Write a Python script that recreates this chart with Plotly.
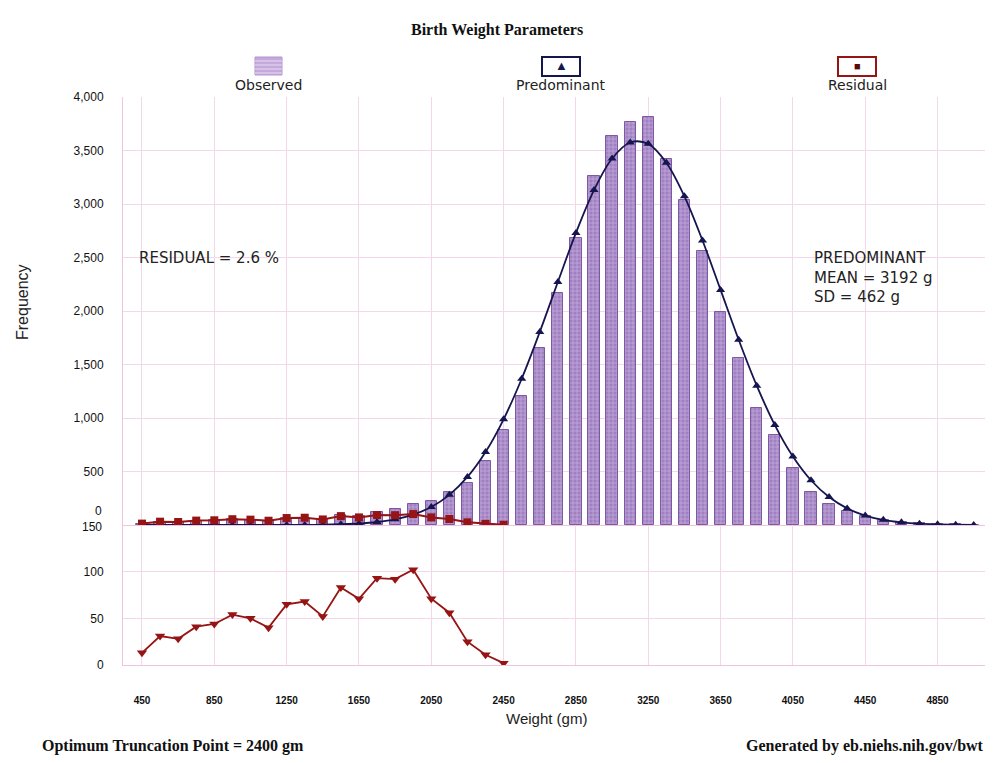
import plotly.graph_objects as go
from plotly.subplots import make_subplots

# ---------------- data ----------------
weights = [450, 550, 650, 750, 850, 950, 1050, 1150, 1250, 1350,
           1450, 1550, 1650, 1750, 1850, 1950, 2050, 2150, 2250, 2350,
           2450, 2550, 2650, 2750, 2850, 2950, 3050, 3150, 3250, 3350,
           3450, 3550, 3650, 3750, 3850, 3950, 4050, 4150, 4250, 4350,
           4450, 4550, 4650, 4750, 4850, 4950, 5050]

observed = [13, 31, 28, 41, 44, 54, 50, 40, 66, 70,
            56, 90, 85, 120, 145, 195, 225, 310, 390, 600,
            890, 1210, 1650, 2170, 2680, 3260, 3640, 3770, 3810, 3420,
            3040, 2560, 1990, 1560, 1090, 840, 530, 310, 200, 130,
            85, 45, 25, 15, 8, 5, 3]

predominant = [0, 0, 0, 0, 0, 0, 0, 0, 1, 1,
               3, 7, 14, 28, 53, 97, 169, 282, 449, 682,
               988, 1367, 1804, 2271, 2730, 3130, 3425, 3575, 3562, 3386,
               3072, 2659, 2197, 1731, 1302, 934, 640, 418, 261, 155,
               88, 48, 25, 12, 6, 3, 1]

residual_weights = weights[:21]
residual = [13, 31, 28, 41, 44, 54, 50, 40, 65, 68,
            52, 83, 71, 93, 92, 102, 71, 56, 25, 11, 2]

x_ticks = [450, 850, 1250, 1650, 2050, 2450, 2850, 3250, 3650, 4050, 4450, 4850]
y_ticks_top = [500, 1000, 1500, 2000, 2500, 3000, 3500, 4000]
y_ticks_bottom = [0, 50, 100]

# ---------------- layout geometry ----------------
OFF = 8  # page body margin
W, H = 985, 755
ML, MR, MT, MB = 115, 3, 89, 98
PW, PH = W - ML - MR, H - MT - MB


def px(xs):
    return (xs - OFF - ML) / PW


def py(ys):
    return (H - MB - (ys - OFF)) / PH


NAVY = "#15154f"
RED = "#961414"
GRID = "#f4d8ea"
SANS = "Liberation Sans, Arial, sans-serif"
WIDE = "DejaVu Sans, Liberation Sans, Arial, sans-serif"
NARROW = "Liberation Sans Narrow, Arial Narrow, Liberation Sans, Arial, sans-serif"
SERIF = "Liberation Serif, Times New Roman, serif"

fig = make_subplots(rows=2, cols=1, shared_xaxes=True, vertical_spacing=0,
                    row_heights=[428 / 568, 140 / 568])

fig.add_trace(go.Bar(
    x=weights, y=observed, width=62, name="Observed",
    marker=dict(color="#a080c2", line=dict(color="#7e58a2", width=1),
                pattern=dict(shape="+", fgcolor="#e2d6f0", size=4, solidity=0.35)),
), row=1, col=1)

fig.add_trace(go.Scatter(
    x=weights, y=predominant, mode="lines+markers", name="Predominant",
    line=dict(color=NAVY, width=1.8, shape="spline"),
    marker=dict(symbol="triangle-up", size=8, color=NAVY),
), row=1, col=1)

fig.add_trace(go.Scatter(
    x=residual_weights, y=residual, mode="lines+markers", name="Residual",
    line=dict(color=RED, width=2),
    marker=dict(symbol="square", size=8, color=RED),
), row=1, col=1)

fig.add_trace(go.Scatter(
    x=residual_weights, y=residual, mode="lines+markers", name="Residual",
    line=dict(color=RED, width=1.8),
    marker=dict(symbol="triangle-down", size=9, color=RED),
), row=2, col=1)

axis_common = dict(showgrid=True, gridcolor=GRID, gridwidth=1, zeroline=False,
                   showline=True, linecolor="#f0c4dc", linewidth=1, ticks="")

fig.update_xaxes(range=[345, 5140], tickvals=x_ticks, **axis_common)
fig.update_xaxes(showticklabels=False, row=1, col=1)
fig.update_xaxes(showticklabels=True, ticklabelstandoff=26,
                 tickfont=dict(family=NARROW, size=10, color="#111", weight="bold"),
                 row=2, col=1)

fig.update_yaxes(range=[0, 4000], tickvals=y_ticks_top, tickformat=",d",
                 ticklabelstandoff=16,
                 tickfont=dict(family=SANS, size=12, color="#111"),
                 row=1, col=1, **axis_common)
fig.update_yaxes(range=[0, 150], tickvals=y_ticks_bottom + [150], ticktext=["0", "50", "100", ""],
                 ticklabelstandoff=16,
                 tickfont=dict(family=SANS, size=12, color="#111"),
                 row=2, col=1, **axis_common)


def note(text, xs, ys, size, family=SANS, xanchor="center", color="#222", weight="normal", **kw):
    return dict(text=text, xref="paper", yref="paper", x=px(xs), y=py(ys),
                xanchor=xanchor, yanchor="middle", showarrow=False,
                font=dict(family=family, size=size, color=color, weight=weight), **kw)


annotations = [
    # boundary labels
    dict(text="0", xref="paper", yref="y", x=px(104), y=0, yshift=14,
         xanchor="right", yanchor="middle", showarrow=False,
         font=dict(family=SANS, size=12, color="#111")),
    dict(text="150", xref="paper", yref="y2", x=px(104), y=150, yshift=-2,
         xanchor="right", yanchor="middle", showarrow=False,
         font=dict(family=SANS, size=12, color="#111")),
    # titles
    note("Birth Weight Parameters", 497, 30, 16, family=SERIF, color="#111", weight="bold"),
    note("Frequency", 22, 302, 16, textangle=-90),
    note("Weight (gm)", 546, 718, 15),
    note("Optimum Truncation Point = 2400 gm", 40, 746, 16, family=SERIF,
         xanchor="left", color="#111", weight="bold"),
    note("Generated by eb.niehs.nih.gov/bwt", 986, 746, 16, family=SERIF,
         xanchor="right", color="#111", weight="bold"),
    # in-plot texts
    note("RESIDUAL = 2.6 %", 137, 258, 15, family=WIDE, xanchor="left"),
    note("PREDOMINANT<br>MEAN = 3192 g<br>SD = 462 g", 812, 277, 15, family=WIDE,
         xanchor="left", align="left"),
    # legend labels
    note("Observed", 268, 85, 14, family=WIDE),
    note("Predominant", 561, 85, 14, family=WIDE),
    note("Residual", 857, 85, 14, family=WIDE),
    note("▲", 561, 66, 13, color=NAVY),
    note("■", 857, 66, 11, color="#5a0a0a"),
]

shapes = [
    dict(type="rect", xref="paper", yref="paper", x0=px(255), x1=px(282), y0=py(75), y1=py(57),
         fillcolor="#c4a9dc", line=dict(color="#b596d0", width=1)),
    dict(type="rect", xref="paper", yref="paper", x0=px(542), x1=px(580), y0=py(76), y1=py(57),
         fillcolor="white", line=dict(color=NAVY, width=2)),
    dict(type="rect", xref="paper", yref="paper", x0=px(838), x1=px(876), y0=py(76), y1=py(57),
         fillcolor="white", line=dict(color=RED, width=2)),
]
for yy in [61, 65, 69, 73]:
    shapes.append(dict(type="line", xref="paper", yref="paper", x0=px(255), x1=px(282),
                       y0=py(yy), y1=py(yy), line=dict(color="#e8dcf2", width=1)))

fig.update_layout(
    width=W, height=H,
    margin=dict(l=ML, r=MR, t=MT, b=MB),
    paper_bgcolor="white", plot_bgcolor="white",
    showlegend=False, bargap=0,
    annotations=annotations, shapes=shapes,
)

fig.write_html("out.html")
